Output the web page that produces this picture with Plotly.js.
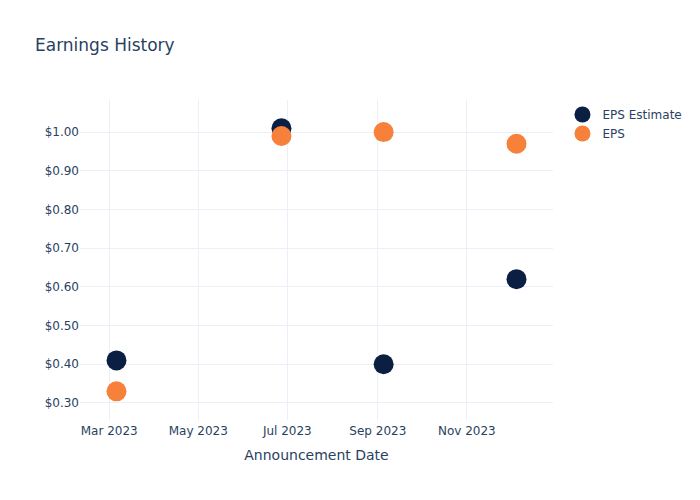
<!DOCTYPE html>
<html>
<head>
<meta charset="utf-8">
<script src="https://cdn.plot.ly/plotly-3.0.1.min.js"></script>
<style>html,body{margin:0;padding:0;background:#fff;}</style>
</head>
<body>
<div id="chart" style="width:700px;height:500px;"></div>
<script>
var dates = ["2023-03-06", "2023-06-27", "2023-09-05", "2023-12-05"];
var epsEstimate = [0.41, 1.01, 0.40, 0.62];
var epsActual = [0.33, 0.99, 1.00, 0.97];

var traces = [
  {
    x: dates, y: epsEstimate, name: "EPS Estimate", type: "scatter", mode: "markers",
    marker: {color: "#0b1f42", size: 20}
  },
  {
    x: dates, y: epsActual, name: "EPS", type: "scatter", mode: "markers",
    marker: {color: "#f7813a", size: 20}
  }
];

var layout = {
  width: 700, height: 500,
  paper_bgcolor: "#fff", plot_bgcolor: "#fff",
  font: {family: "'DejaVu Sans', sans-serif", color: "#2a3f5f", size: 12},
  title: {text: "Earnings History", x: 0.05, xanchor: "left", y: 0.922, font: {size: 17}},
  margin: {l: 80, r: 147, t: 100, b: 80},
  xaxis: {
    title: {text: "Announcement Date", font: {size: 14}, standoff: 12},
    type: "date", gridcolor: "#EBF0F8", zeroline: false,
    tickformat: "%b %Y", dtick: "M2", tick0: "2023-03-01",
    range: ["2023-02-09", "2023-12-30"], linecolor: "#fff", ticks: "", automargin: false
  },
  yaxis: {
    gridcolor: "#EBF0F8", zeroline: false, tickprefix: "$", tickformat: ".2f",
    dtick: 0.1, range: [0.256, 1.083]
  },
  legend: {x: 1.02, y: 1, xanchor: "left", yanchor: "top", font: {size: 12}},
  showlegend: true
};

Plotly.newPlot("chart", traces, layout, {displayModeBar: false});
</script>
</body>
</html>
